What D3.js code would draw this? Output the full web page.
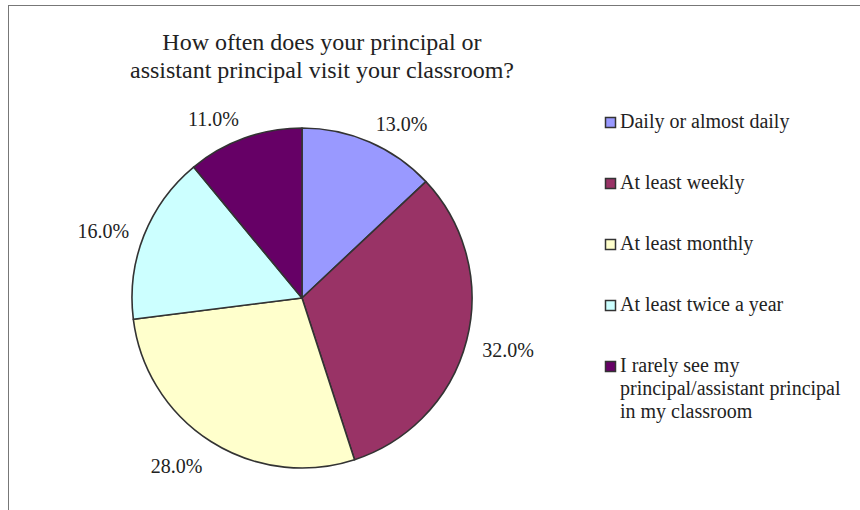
<!DOCTYPE html>
<html>
<head>
<meta charset="utf-8">
<script src="https://cdn.jsdelivr.net/npm/d3@7"></script>
<style>
  html, body { margin: 0; padding: 0; background: #fff; }
  svg { display: block; }
  text { font-family: "Liberation Serif", "Times New Roman", Times, "DejaVu Serif", serif; fill: #222; }
</style>
</head>
<body>
<svg id="chart" width="860" height="510"></svg>
<script>
// Survey answers and their shares (percent of respondents)
const categories = [
  "Daily or almost daily",
  "At least weekly",
  "At least monthly",
  "At least twice a year",
  "I rarely see my principal/assistant principal in my classroom"
];
const shares = [13.0, 32.0, 28.0, 16.0, 11.0];
const sliceColors = ["#9999FF", "#993366", "#FFFFCC", "#CCFFFF", "#660066"];
const titleLines = [
  "How often does your principal or",
  "assistant principal visit your classroom?"
];

const W = 860, H = 510;
const svg = d3.select("#chart");

// Chart frame (extends past the right and bottom edges of the view)
svg.append("rect")
  .attr("x", 8.5).attr("y", 5.5)
  .attr("width", W + 20).attr("height", H + 20)
  .attr("fill", "#fff").attr("stroke", "#777").attr("stroke-width", 1);

// Title
const title = svg.append("text")
  .attr("text-anchor", "middle")
  .style("font-size", "24px");
titleLines.forEach((line, i) => {
  title.append("tspan").attr("x", 322).attr("y", 50 + i * 28).text(line);
});

// Pie
const cx = 302, cy = 298, radius = 170;
const data = categories.map((c, i) => ({ category: c, value: shares[i], color: sliceColors[i] }));
const pie = d3.pie().sort(null).value(d => d.value).startAngle(0).endAngle(2 * Math.PI);
const arcs = pie(data);
const arc = d3.arc().innerRadius(0).outerRadius(radius);

const g = svg.append("g").attr("transform", `translate(${cx},${cy})`);
g.selectAll("path.slice")
  .data(arcs)
  .join("path")
  .attr("class", "slice")
  .attr("d", arc)
  .attr("fill", d => d.data.color)
  .attr("stroke", "#333")
  .attr("stroke-width", 1.6)
  .attr("stroke-linejoin", "round");

// Percentage labels: the label box's inner side sits on a ring just outside the pie
const fmt = d3.format(".1f");
const labelRing = radius + 16;
const halfH = 8;
g.selectAll("text.pct")
  .data(arcs)
  .join("text")
  .attr("class", "pct")
  .attr("text-anchor", "middle")
  .attr("dominant-baseline", "central")
  .style("font-size", "20px")
  .text(d => fmt(d.data.value) + "%")
  .each(function (d) {
    const a = (d.startAngle + d.endAngle) / 2;
    const s = Math.sin(a), c = Math.cos(a);
    const halfW = this.getBBox().width / 2;
    const x = s * labelRing + Math.sign(s) * halfW;
    const y = -c * labelRing - c * halfH + 4;
    d3.select(this).attr("x", x).attr("y", y);
  });

// Legend
const legendX = 605, legendY0 = 128, legendStep = 61, lineH = 23, wrapWidth = 225;
const legend = svg.append("g");
data.forEach((d, i) => {
  const y = legendY0 + i * legendStep;
  legend.append("rect")
    .attr("x", legendX + 0.5).attr("y", y - 10.5)
    .attr("width", 10).attr("height", 10)
    .attr("fill", d.color).attr("stroke", "#333").attr("stroke-width", 1.5);
  const t = legend.append("text").style("font-size", "20px");
  // greedy word wrap
  const words = d.category.split(" ");
  let line = [], lineNo = 0;
  let tspan = t.append("tspan").attr("x", legendX + 15).attr("y", y);
  words.forEach(w => {
    line.push(w);
    tspan.text(line.join(" "));
    if (tspan.node().getComputedTextLength() > wrapWidth && line.length > 1) {
      line.pop();
      tspan.text(line.join(" "));
      line = [w];
      lineNo++;
      tspan = t.append("tspan").attr("x", legendX + 15).attr("y", y + lineNo * lineH).text(w);
    }
  });
});
</script>
</body>
</html>
